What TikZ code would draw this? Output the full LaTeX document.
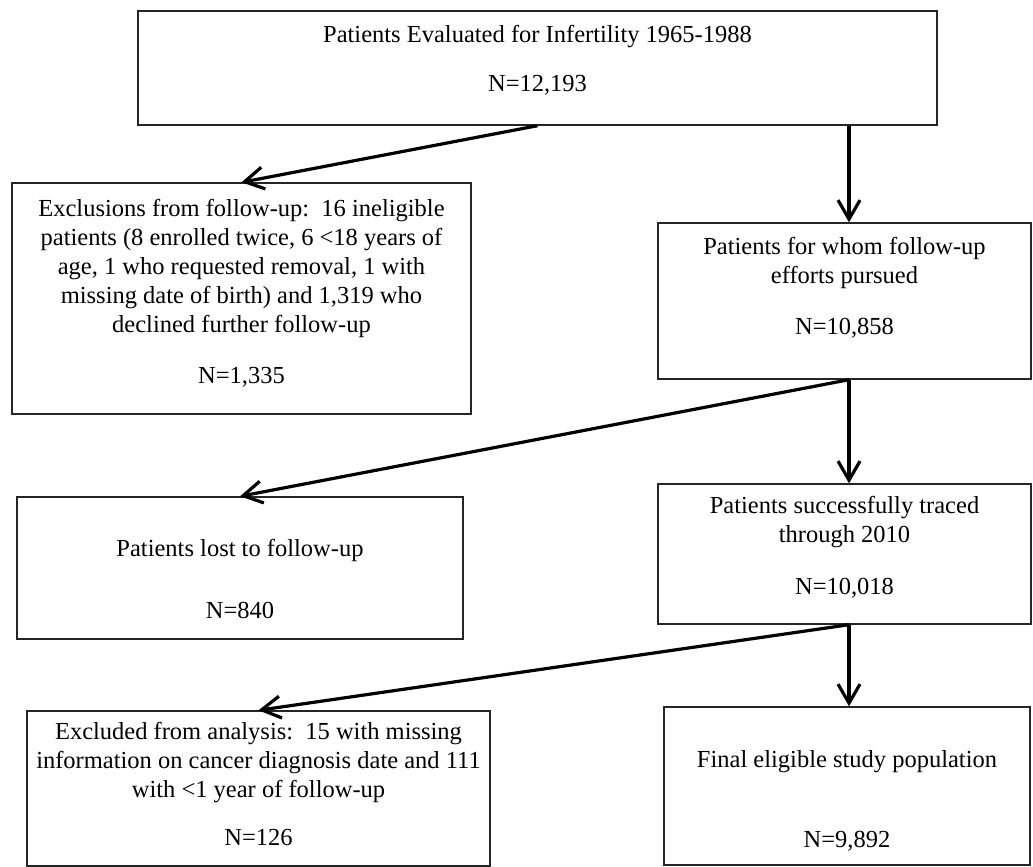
\documentclass[tikz,border=0pt]{standalone}
\usepackage{fontspec}
\setmainfont{Liberation Serif}
\usetikzlibrary{arrows.meta}
\begin{document}
\begin{tikzpicture}[x=1pt,y=-1pt,
  box/.style={draw=black!85, line width=1.4pt, inner sep=0pt, rectangle},
  txt/.style={inner sep=0pt, align=center, font=\fontsize{24.5}{29}\selectfont},
  arr/.style={line width=3.2pt, -{Straight Barb[length=19pt,width=22pt,line width=3.2pt]}}]
\useasboundingbox (0,0) rectangle (1033,867);
\coordinate (spine) at (849,0);
% boxes
\node[box, minimum width=799pt, minimum height=114pt] (b1) at (537.5,68) {};
\node[box, minimum width=459pt, minimum height=231pt] (b2) at (241.5,298.5) {};
\node[box, minimum width=373pt, minimum height=156pt] (b3) at (844.5,301) {};
\node[box, minimum width=446pt, minimum height=142pt] (b4) at (240,568) {};
\node[box, minimum width=373pt, minimum height=140pt] (b5) at (844.5,554) {};
\node[box, minimum width=463pt, minimum height=155pt] (b6) at (258.5,788.5) {};
\node[box, minimum width=366pt, minimum height=158pt] (b7) at (847,786) {};
% texts
\node[txt] (t1) at (537.5,37) {Patients Evaluated for Infertility 1965-1988};
\node[txt] (n1) at (537.5,85) {N=12,193};
\node[txt] (t2) at (241.5,268) {Exclusions from follow-up:\ \ 16 ineligible\\patients (8 enrolled twice, 6 <18 years of\\age, 1 who requested removal, 1 with\\missing date of birth) and 1,319 who\\declined further follow-up};
\node[txt] (n2) at (241.5,377) {N=1,335};
\node[txt] (t3) at (844.5,262.5) {Patients for whom follow-up\\efforts pursued};
\node[txt] (n3) at (844.5,328) {N=10,858};
\node[txt] (t4) at (240,550) {Patients lost to follow-up};
\node[txt] (n4) at (240,610) {N=840};
\node[txt] (t5) at (844.5,522.5) {Patients successfully traced\\through 2010};
\node[txt] (n5) at (844.5,588) {N=10,018};
\node[txt] (t6) at (258.5,763) {Excluded from analysis:\ \ 15 with missing\\information on cancer diagnosis date and 111\\with <1 year of follow-up};
\node[txt] (n6) at (258.5,837) {N=126};
\node[txt] (t7) at (847,762) {Final eligible study population};
\node[txt] (n7) at (847,841) {N=9,892};
% arrows
\draw[arr] (b1.south) -- (b2.north);
\draw[arr] (b1.south -| spine) -- (b3.north -| spine);
\draw[arr] (b3.south -| spine) -- (b4.north);
\draw[arr] (b3.south -| spine) -- (b5.north -| spine);
\draw[arr] (b5.south -| spine) -- (b6.north);
\draw[arr] (b5.south -| spine) -- (b7.north -| spine);
\end{tikzpicture}
\end{document}
